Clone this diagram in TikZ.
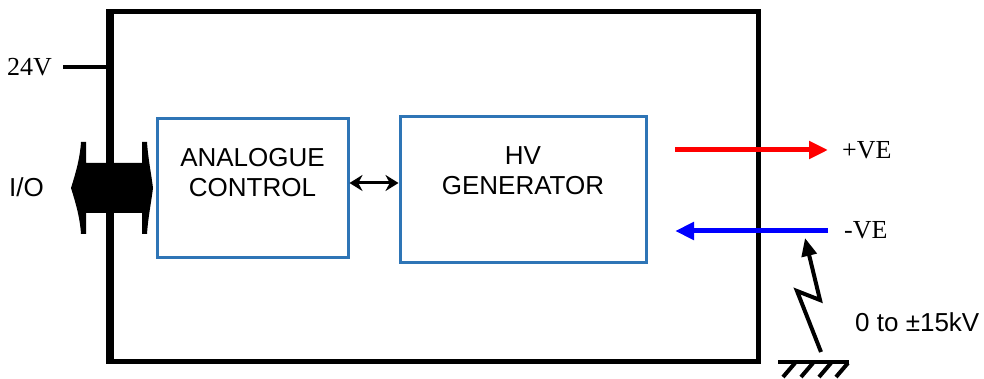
\documentclass[tikz,border=0pt]{standalone}
\usepackage{fontspec}
\setmainfont{Liberation Serif}
\newfontfamily\arial{Liberation Sans}
\usetikzlibrary{arrows.meta}
\definecolor{boxblue}{HTML}{2E75B6}
\begin{document}
\begin{tikzpicture}[x=1pt,y=-1pt,
  bluebox/.style={draw=boxblue,line width=3pt,inner sep=0pt},
  boxtext/.style={align=center,inner sep=0pt,font=\arial\fontsize{26}{30}\selectfont},
  sanslabel/.style={font=\arial\fontsize{26}{30}\selectfont,inner sep=0pt},
  seriflabel/.style={font=\fontsize{26}{30}\selectfont,inner sep=0pt},
  wire/.style={line width=5pt}]
\useasboundingbox (0,0) rectangle (984,379);
% main enclosure
\node[draw,line width=5pt,minimum width=647pt,minimum height=349pt,inner sep=0pt] (main) at (434.5,186.5) {};
% blocks
\node[bluebox,minimum width=191pt,minimum height=138pt] (ac) at (252.5,188) {};
\node[boxtext] (actext) at (252.5,173) {ANALOGUE\\CONTROL};
\node[bluebox,minimum width=246pt,minimum height=145pt] (hv) at (523,189.5) {};
\node[boxtext] (hvtext) at (523,171) {HV\\GENERATOR};
\draw[line width=3pt,{Stealth[length=13pt,width=16pt]}-{Stealth[length=13pt,width=16pt]}]
  (ac.east |- 0,183) -- (hv.west |- 0,183);
% 24V
\node[seriflabel,anchor=west] (v24) at (7,67) {24V};
\coordinate (v24a) at (63,67);
\draw[line width=4pt] (v24a) -- (main.west |- v24a);
% I/O
\node[sanslabel,anchor=west] (io) at (9,187) {I/O};
\fill (71,188) .. controls (76,172) and (80,158) .. (81,142) -- (86,142) -- (86,163) -- (142,163) -- (142,142) -- (147,142)
  .. controls (148,158) and (151,172) .. (153,188) .. controls (151,204) and (148,218) .. (147,234) -- (142,234) -- (142,213) -- (86,213)
  -- (86,234) -- (81,234) .. controls (80,218) and (76,204) .. (71,188) -- cycle;
\draw[line width=5pt] (main.north west) -- (main.south west);
% outputs
\coordinate (r1) at (675,150);
\coordinate (r2) at (828,150);
\draw[wire,red,-{Triangle[length=19pt,width=17pt]}] (r1) -- (r2);
\node[seriflabel,anchor=west] (pve) at (842,150) {+VE};
\coordinate (b1) at (828,231);
\coordinate (b2) at (675,231);
\draw[wire,blue,-{Triangle[length=19pt,width=17pt]}] (b1) -- (b2);
\node[seriflabel,anchor=west] (nve) at (844,230) {-VE};
% voltage lightning
\coordinate (g0) at (821,352);
\coordinate (z1) at (797,291);
\coordinate (z2) at (820,300);
\coordinate (tip) at (805,238);
\draw[line width=4pt,line join=miter,-{Triangle[length=18pt,width=15pt]}] (g0) -- (z1) -- (z2) -- (tip);
\node[sanslabel,anchor=west] (kv) at (855,322) {0 to ±15kV};
% ground
\coordinate (gl) at (778,362);
\coordinate (gr) at (849,362);
\draw[line width=4pt] (gl) -- (gr);
\foreach \xx in {795,813,831,848}
  \draw[line width=4pt] (\xx,363) -- (\xx-12,377);
\end{tikzpicture}
\end{document}
